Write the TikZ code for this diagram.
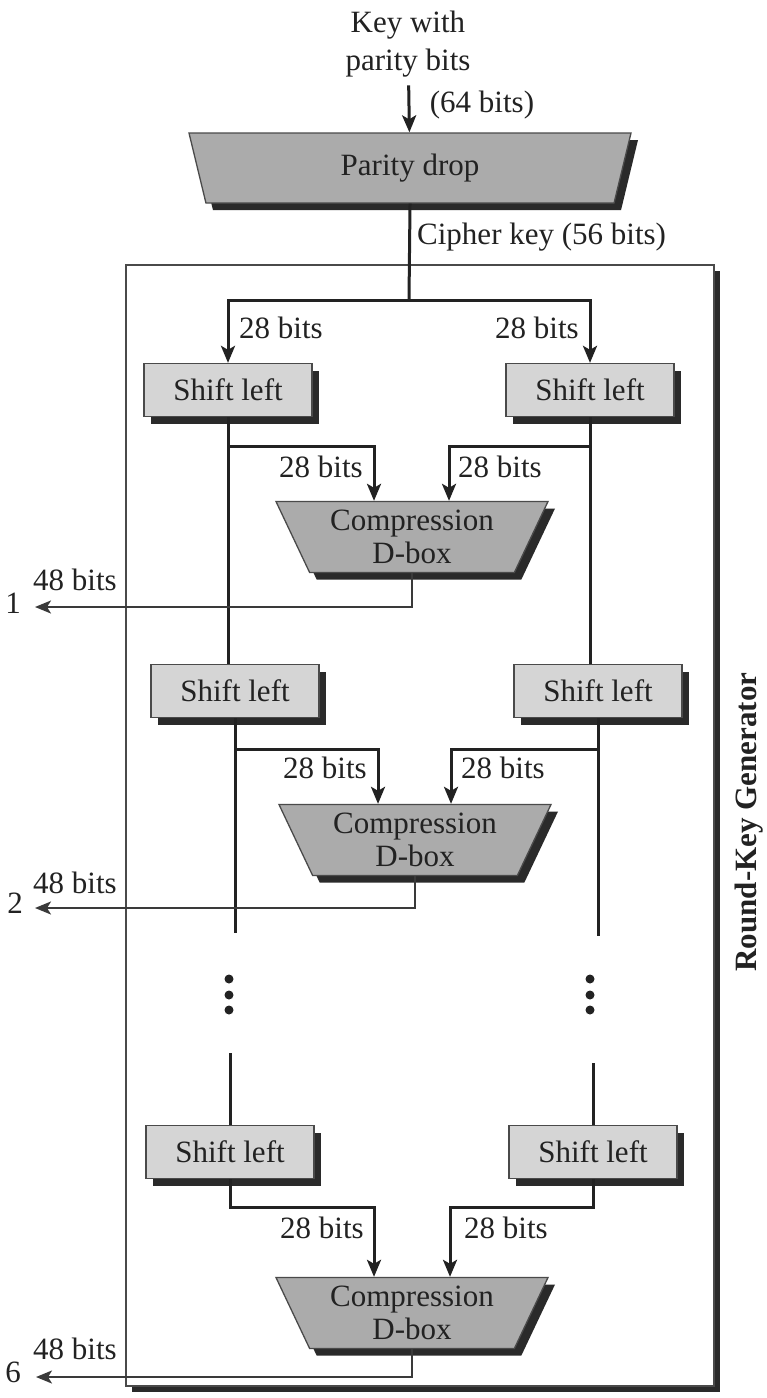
\documentclass[tikz,border=0pt]{standalone}
\usepackage{fontspec}
\setmainfont{Liberation Serif}
\usetikzlibrary{shapes.geometric,shadows,arrows.meta,calc}
\definecolor{txt}{HTML}{222222}
\definecolor{dboxfill}{HTML}{ABABAB}
\definecolor{slfill}{HTML}{D5D5D5}
\definecolor{shade}{HTML}{2A2A2A}
\definecolor{edge}{HTML}{4A4A4A}
\definecolor{outc}{HTML}{3A3A3A}
\begin{document}
\begin{tikzpicture}[x=1pt,y=-1pt,
  every node/.style={font=\fontsize{31}{33}\selectfont, text=txt},
  lbl/.style={inner sep=1pt},
  shd/.style={drop shadow={shadow xshift=7pt, shadow yshift=-7pt, fill=shade, opacity=1}},
  slbox/.style={draw=edge, line width=1.3pt, fill=slfill, minimum width=168pt, minimum height=53pt, inner sep=0pt, shd},
  trap/.style={trapezium, trapezium stretches body=true, shape border rotate=180, draw=edge, line width=1.3pt, fill=dboxfill, inner sep=0pt, align=center, shd},
  conn/.style={draw=txt, line width=3pt},
  arr/.style={conn, -{Stealth[length=17pt,width=14pt,inset=4pt]}},
  outarr/.style={draw=outc, line width=2.2pt, -{Stealth[length=16pt,width=13pt,inset=4pt]}},
  dot/.style={fill=txt}
]
\useasboundingbox (0,0) rectangle (766,1398);
\fill[white] (0,0) rectangle (766,1398);

% frame of the round-key generator
\path[draw=edge, line width=1.6pt, fill=white, drop shadow={shadow xshift=6pt, shadow yshift=-6pt, fill=shade, opacity=1}] (126,265) rectangle (714,1386);
\node[rotate=90, font=\fontsize{31}{33}\selectfont\bfseries] (rkg) at (749,822) {Round-Key Generator};

% top
\node[align=center, inner sep=2pt, font=\fontsize{31}{38}\selectfont] (key) at (408,44) {Key with\\parity bits};
\node[trap, trapezium angle=59, minimum width=442pt, minimum height=70pt] (pd) at (410,168) {Parity drop};
\node[lbl] (l64) at (482,105) {(64 bits)};
\node[lbl, anchor=west] (ck) at (416,237) {Cipher key (56 bits)};
\coordinate (split) at (409,300);

% shift-left boxes
\node[slbox] (sl1L) at (228,390) {Shift left};
\node[slbox] (sl1R) at (590,390) {Shift left};
\node[slbox] (sl2L) at (235,691) {Shift left};
\node[slbox] (sl2R) at (598,691) {Shift left};
\node[slbox] (sl3L) at (230,1152) {Shift left};
\node[slbox] (sl3R) at (593,1152) {Shift left};

% compression D-boxes
\node[trap, trapezium angle=58, minimum width=272pt, minimum height=71pt] (c1) at (412,537) {Compression\\D-box};
\node[trap, trapezium angle=58, minimum width=272pt, minimum height=71pt] (c2) at (415,840) {Compression\\D-box};
\node[trap, trapezium angle=58, minimum width=272pt, minimum height=71pt] (c3) at (412,1313) {Compression\\D-box};

% helper rows
\coordinate (y1) at (0,446);
\coordinate (y2) at (0,749);
\coordinate (y3) at (0,1207);
\coordinate (gL1) at (0,933);
\coordinate (gR1) at (0,936);
\coordinate (gL2) at (0,1053);
\coordinate (gR2) at (0,1063);
\coordinate (o1) at (35,607);
\coordinate (o2) at (35,908);
\coordinate (o3) at (36,1377);

% top connectors
\draw[arr, shorten <=6pt] (key) -- (pd);
\draw[conn] (pd.south) -- (split);
\draw[arr] (split) -| (sl1L);
\draw[arr] (split) -| (sl1R);
\node[lbl] (t1L) at (281,328) {28 bits};
\node[lbl] (t1R) at (537,328) {28 bits};

% round 1
\draw[conn] (sl1L.south) -- (sl1L.south |- sl2L.north);
\draw[conn] (sl1R.south) -- (sl1R.south |- sl2R.north);
\draw[arr] (sl1L.south |- y1) -| ([xshift=-38pt]c1.north);
\draw[arr] (sl1R.south |- y1) -| ([xshift=37pt]c1.north);
\node[lbl] (a1L) at (321,467) {28 bits};
\node[lbl] (a1R) at (500,467) {28 bits};
\draw[outarr] (c1.south) |- (o1);
\node[lbl] (k1) at (75,580) {48 bits};
\node[lbl, anchor=east] (n1) at (22,603) {1};

% round 2
\draw[conn] (sl2L.south) -- (sl2L.south |- gL1);
\draw[conn] (sl2R.south) -- (sl2R.south |- gR1);
\draw[arr] (sl2L.south |- y2) -| ([xshift=-37pt]c2.north);
\draw[arr] (sl2R.south |- y2) -| ([xshift=36pt]c2.north);
\node[lbl] (a2L) at (325,768) {28 bits};
\node[lbl] (a2R) at (503,768) {28 bits};
\draw[outarr] (c2.south) |- (o2);
\node[lbl] (k2) at (75,883) {48 bits};
\node[lbl, anchor=east] (n2) at (24,903) {2};

% ellipsis
\foreach \yy in {979,995,1010} {
  \fill[dot] (229,\yy) circle (4.5);
  \fill[dot] (590,\yy) circle (4.5);
}

% round 16
\draw[conn] (sl3L.north |- gL2) -- (sl3L.north);
\draw[conn] (sl3R.north |- gR2) -- (sl3R.north);
\draw[arr] (sl3L.south) -- (sl3L.south |- y3) -| ([xshift=-38pt]c3.north);
\draw[arr] (sl3R.south) -- (sl3R.south |- y3) -| ([xshift=38pt]c3.north);
\node[lbl] (a3L) at (322,1228) {28 bits};
\node[lbl] (a3R) at (506,1228) {28 bits};
\draw[outarr] (c3.south) |- (o3);
\node[lbl] (k3) at (75,1349) {48 bits};
\node[lbl, anchor=east] (n3) at (22,1372) {6};
\end{tikzpicture}
\end{document}
